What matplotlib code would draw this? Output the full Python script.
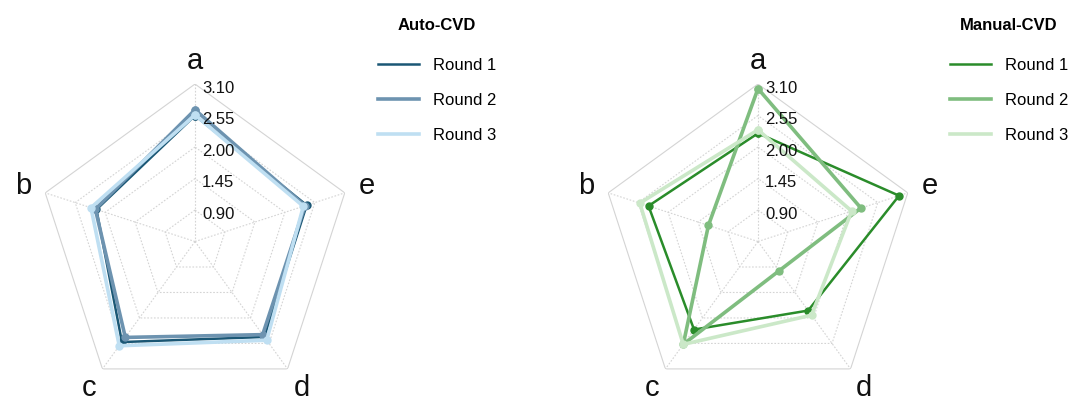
import matplotlib.pyplot as plt
from matplotlib.lines import Line2D
import numpy as np

plt.rcParams['font.family'] = ['Liberation Sans', 'DejaVu Sans']

categories = ['a', 'b', 'c', 'd', 'e']
rings = [0.90, 1.45, 2.00, 2.55, 3.10]
r_min = 0.35
series_names = ['Round 1', 'Round 2', 'Round 3']

auto_values = [
    [2.55, 2.16, 2.52, 2.41, 2.40],
    [2.65, 2.18, 2.42, 2.36, 2.37],
    [2.56, 2.26, 2.60, 2.48, 2.34],
]
manual_values = [
    [2.24, 2.36, 2.25, 1.84, 2.94],
    [3.02, 1.26, 2.57, 0.98, 2.24],
    [2.30, 2.52, 2.57, 1.94, 2.07],
]

auto_colors = ['#1a5775', '#6d93b0', '#bfdff2']
manual_colors = ['#2a8c2a', '#7fbd7f', '#cbe8c8']
line_widths = [1.8, 2.6, 2.6]


def draw_radar(fig, rect, values, colors, title, legend_x):
    ax = fig.add_axes(rect, polar=True)
    ax.set_theta_offset(np.pi / 2)
    ax.set_ylim(r_min, rings[-1])
    ax.axis('off')

    n = len(categories)
    theta = np.arange(n) * 2 * np.pi / n
    closed = np.append(theta, theta[0])

    # pentagon grid: dotted inner rings and spokes, solid outer ring
    for r in rings:
        style = '-' if r == rings[-1] else (0, (1.5, 1.5))
        ax.plot(closed, [r] * (n + 1), color='#d4d4d4', lw=0.8,
                linestyle=style, zorder=1)
    for t in theta:
        ax.plot([t, t], [r_min, rings[-1]], color='#d4d4d4', lw=0.8,
                linestyle=(0, (1.5, 1.5)), zorder=1)

    for r in rings:
        ax.annotate(f'{r:.2f}', xy=(0, r), xytext=(7, -4),
                    textcoords='offset pixels', ha='left', va='center',
                    fontsize=12, color='#111111', zorder=5)

    for t, name in zip(theta, categories):
        ax.text(t, 3.51, name, ha='center', va='center', fontsize=21,
                color='#111111')

    handles = []
    for vals, c, lw, name in zip(values, colors, line_widths, series_names):
        v = np.append(vals, vals[0])
        ax.plot(closed, v, color=c, lw=lw, marker='o', markersize=5,
                zorder=3)
        handles.append(Line2D([], [], color=c, lw=lw, label=name))

    leg = fig.legend(handles=handles, loc='upper left',
                     bbox_to_anchor=(legend_x, 0.955), frameon=False,
                     fontsize=12, handlelength=2.45, handletextpad=0.85,
                     labelspacing=1.19, borderpad=0, borderaxespad=0,
                     title=title,
                     title_fontproperties={'weight': 'bold', 'size': 12})
    leg._legend_box.sep = 18
    return ax


fig = plt.figure(figsize=(10.75, 4.03), dpi=100)

draw_radar(fig, [0.0349, 0.0099, 0.2930, 0.7816], auto_values,
           auto_colors, 'Auto-CVD', 0.3516)
draw_radar(fig, [0.5586, 0.0099, 0.2930, 0.7816], manual_values,
           manual_colors, 'Manual-CVD', 0.8837)

fig.savefig('out.png', dpi=100)
